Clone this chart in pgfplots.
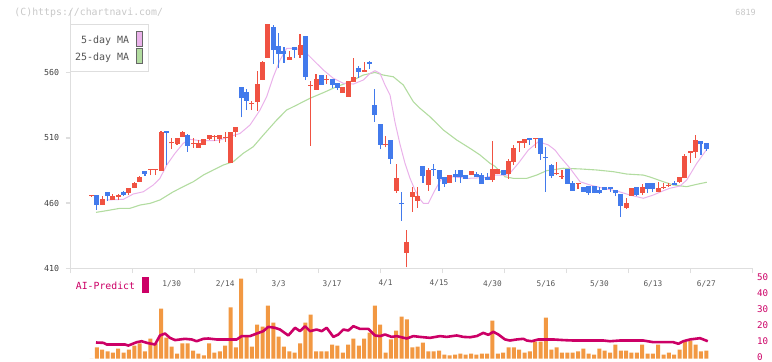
\documentclass[border=0pt]{standalone}
\usepackage{pgfplots}
\pgfplotsset{compat=1.18}
\usepackage{pgfplotstable}
\usepackage{fontspec}
\setmainfont{DejaVu Sans}
\newfontfamily\mono{DejaVu Sans Mono}
\newcommand\fmono[1]{\mono\fontsize{#1}{#1}\selectfont}
\definecolor{cred}{RGB}{240,82,66}
\definecolor{cblue}{RGB}{66,122,236}
\definecolor{cma5}{RGB}{234,178,234}
\definecolor{cma25}{RGB}{178,220,160}
\definecolor{cvol}{RGB}{242,152,66}
\definecolor{cai}{RGB}{204,0,102}
\definecolor{axgray}{RGB}{222,222,222}
\definecolor{txtgray}{RGB}{85,85,85}
\definecolor{wm}{RGB}{200,200,200}

\pgfplotstableread{
i o h l c
1 465.3 465.4 465.3 465.4
2 466.2 466.2 454.7 458.5
3 458.5 465.4 458.5 463.1
4 468.5 468.5 461.6 465.4
5 462.4 467.0 462.4 465.4
6 464.7 467.0 462.4 466.2
7 468.7 469.5 465.4 466.2
8 467.7 471.6 466.2 471.6
9 471.6 476.2 471.6 475.4
10 476.2 480.8 476.2 480.0
11 484.6 484.6 481.0 482.3
12 485.3 485.4 481.5 485.4
13 485.3 485.4 481.5 485.4
14 484.8 515.3 484.8 514.5
15 515.3 515.3 489.2 514.0
16 505.8 509.9 501.5 505.9
17 505.3 509.9 504.6 509.9
18 510.9 515.0 510.9 514.5
19 512.2 513.0 499.2 504.0
20 505.1 509.7 502.3 505.9
21 502.3 508.4 502.3 506.1
22 504.6 509.2 504.6 509.2
23 509.2 512.2 508.4 512.2
24 510.7 512.2 507.6 511.5
25 509.2 512.2 505.9 512.2
26 509.6 514.5 506.9 509.7
27 491.0 514.5 491.0 514.5
28 514.5 518.6 510.9 518.4
29 549.3 549.3 525.8 540.4
30 545.4 547.5 531.4 538.5
31 535.9 538.3 531.4 536.0
32 537.8 561.3 530.9 551.3
33 554.4 569.0 554.4 568.4
34 571.5 597.4 571.5 597.4
35 595.0 596.6 566.7 577.4
36 580.5 590.7 563.4 574.6
37 576.6 579.9 567.7 574.6
38 570.0 576.6 570.0 572.3
39 579.7 579.7 571.3 577.6
40 573.8 589.7 571.5 581.2
41 588.1 588.1 554.4 556.9
42 549.9 553.9 504.0 550.0
43 547.0 559.0 547.0 555.2
44 558.2 558.2 550.6 550.6
45 554.5 558.2 551.3 554.6
46 555.2 555.2 548.5 550.6
47 552.1 552.1 546.7 548.5
48 544.7 549.0 544.7 549.0
49 541.6 553.6 541.6 553.6
50 553.1 571.3 553.1 556.7
51 563.8 565.4 556.2 560.8
52 560.8 568.2 560.8 562.1
53 568.2 569.0 562.8 566.9
54 535.2 547.5 522.4 527.6
55 520.7 520.7 501.3 504.6
56 504.5 511.5 502.8 504.6
57 508.4 508.4 489.8 493.8
58 469.5 490.0 468.0 479.5
59 459.6 468.5 446.5 459.5
60 422.0 439.4 410.8 430.2
61 464.9 472.4 453.4 468.5
62 461.8 472.4 456.5 465.7
63 488.5 488.5 475.6 481.0
64 474.1 487.2 469.5 485.4
65 485.5 489.8 481.0 485.4
66 485.4 485.4 469.5 478.7
67 480.0 480.0 472.6 474.9
68 475.4 481.5 475.4 481.5
69 482.3 485.4 476.4 480.2
70 485.4 485.4 475.6 479.8
71 481.5 481.5 478.7 478.7
72 481.8 484.6 481.8 484.6
73 482.3 483.5 479.8 479.8
74 481.5 483.1 474.9 474.9
75 480.0 483.1 477.7 477.7
76 477.9 507.6 476.4 485.9
77 482.1 485.9 482.1 485.9
78 485.4 485.4 481.5 481.5
79 482.1 493.8 478.7 492.3
80 491.8 504.6 489.2 502.3
81 505.9 507.6 499.4 507.6
82 505.9 508.9 502.3 508.9
83 509.9 509.9 504.6 508.4
84 509.1 509.2 502.3 509.2
85 509.9 509.9 493.1 497.7
86 494.9 503.0 468.7 494.8
87 489.2 490.0 479.0 481.0
88 482.2 491.5 481.5 482.3
89 479.9 485.4 478.5 480.0
90 486.2 486.2 474.7 474.7
91 475.4 477.0 469.3 469.3
92 474.7 475.4 470.8 475.4
93 472.4 472.4 468.5 468.5
94 473.1 473.1 466.2 467.7
95 473.1 473.1 467.7 467.7
96 470.0 472.4 467.0 467.7
97 472.4 472.4 470.0 470.0
98 472.4 472.4 468.5 470.8
99 470.0 470.0 465.4 467.7
100 467.0 467.0 449.3 457.8
101 456.2 463.9 455.5 460.1
102 465.4 471.6 465.4 471.6
103 472.4 472.4 465.4 466.2
104 467.7 474.7 466.2 472.4
105 475.4 475.4 467.7 470.8
106 475.4 475.4 468.5 470.8
107 468.5 476.2 468.5 471.6
108 471.5 475.4 471.0 471.6
109 473.0 475.4 472.4 473.1
110 475.4 477.0 473.9 473.9
111 476.2 480.0 475.4 480.0
112 479.2 497.7 479.2 496.1
113 498.4 500.0 490.8 500.0
114 499.2 512.2 494.6 508.4
115 507.6 507.6 496.9 505.3
116 506.1 506.1 500.0 501.5
}\candles

\pgfplotstableread{
i v
3.84 462.4
6.95 462.9
8.82 467.0
10.69 468.7
12.56 473.9
13.81 479.0
15.07 489.2
16.62 498.2
18.17 505.9
19.42 508.9
21.30 507.9
23.78 507.9
25.04 508.4
26.91 511.1
28.78 513.4
30.65 519.9
32.52 531.4
33.77 541.6
35.01 556.9
36.26 569.7
37.51 578.7
38.75 578.7
40.62 577.4
42.49 569.7
44.36 562.1
46.23 555.7
48.10 551.9
49.97 551.3
51.84 554.4
53.09 559.5
54.03 561.5
54.97 559.5
55.90 550.6
56.84 542.9
57.77 522.0
58.71 505.0
59.64 490.5
60.58 479.0
61.51 470.0
62.45 463.0
63.07 459.8
64.00 459.8
65.25 470.0
66.51 479.0
68.38 480.2
71.48 479.0
74.61 479.5
76.48 481.5
78.97 481.5
80.84 490.5
82.71 500.7
84.58 507.1
86.45 504.6
87.70 500.7
88.64 495.6
90.51 486.7
92.38 476.4
94.25 473.9
96.73 471.4
99.24 469.3
101.73 466.2
104.22 463.7
106.09 466.2
107.96 469.5
109.21 471.4
111.08 473.1
112.33 477.7
114.21 490.5
116.08 501.2
}\mafive

\pgfplotstableread{
i v
1.84 452.9
3.53 454.0
6.33 456.0
8.20 456.0
10.07 458.5
11.94 459.8
13.81 462.4
16.30 468.7
18.17 472.6
20.04 476.4
21.91 481.5
23.78 485.4
25.65 489.2
27.52 491.8
29.39 498.2
31.27 503.3
33.14 512.2
35.64 523.7
37.51 531.4
39.38 535.2
41.87 540.4
44.36 544.7
46.87 549.3
49.35 553.1
51.84 558.2
54.03 560.2
55.58 558.2
57.45 556.9
59.32 550.6
61.19 537.8
62.45 532.7
64.32 526.2
66.81 516.1
69.31 508.4
71.80 502.0
73.67 496.9
75.54 490.5
76.48 488.2
78.35 480.2
79.90 479.0
82.41 479.0
84.28 481.5
86.15 484.9
89.25 486.7
92.38 486.2
95.50 485.4
98.61 484.1
101.11 482.3
104.22 481.5
105.47 480.0
107.96 476.4
109.83 473.9
112.33 472.6
114.21 474.4
116.08 476.0
}\matwentyfive

\pgfplotstableread{
i v
1 0
2 6.9
3 5.6
4 4.4
5 3.75
6 6.25
7 3.75
8 5.6
9 8.1
10 9.4
11 4.4
12 12.5
13 9.4
14 31.25
15 13.1
16 7.5
17 3.1
18 9.4
19 9.4
20 5.0
21 3.1
22 1.9
23 9.4
24 3.75
25 4.4
26 8.1
27 31.9
28 6.9
29 50.0
30 14.4
31 7.5
32 21.25
33 20.0
34 33.1
35 22.5
36 13.75
37 7.5
38 4.4
39 3.75
40 9.4
41 22.5
42 27.5
43 4.4
44 4.4
45 4.4
46 8.75
47 8.1
48 3.75
49 8.75
50 12.5
51 8.1
52 12.5
53 16.25
54 33.1
55 21.25
56 3.75
57 11.9
58 17.5
59 26.25
60 24.4
61 6.9
62 7.5
63 10.0
64 4.4
65 4.4
66 5.0
67 2.5
68 1.9
69 2.5
70 3.1
71 2.5
72 3.1
73 2.5
74 3.1
75 3.1
76 23.75
77 3.1
78 3.75
79 6.9
80 6.9
81 5.6
82 3.75
83 4.4
84 10.6
85 10.6
86 25.6
87 5.6
88 6.9
89 3.75
90 3.75
91 3.75
92 4.4
93 6.25
94 3.1
95 2.5
96 6.25
97 5.0
98 3.75
99 8.75
100 5.0
101 5.0
102 3.75
103 3.75
104 8.75
105 3.1
106 3.1
107 8.75
108 2.5
109 3.75
110 2.5
111 5.6
112 10.6
113 11.25
114 8.75
115 4.4
116 5.0
}\volume

\pgfplotstableread{
i v
1.84 10.0
3.21 9.8
3.84 8.75
7.27 8.75
7.89 8.1
9.45 10.2
10.39 10.8
11.32 9.8
12.88 8.75
13.81 14.4
14.75 15.6
15.68 12.9
16.62 11.5
18.49 12.3
19.74 11.9
20.67 10.8
21.92 12.3
22.85 12.5
24.41 11.9
25.97 11.9
28.16 11.9
29.09 14.0
30.65 14.0
31.90 15.6
33.14 17.1
34.07 19.8
35.32 19.2
36.26 18.1
37.81 14.4
39.07 19.2
40.00 17.1
40.94 20.2
41.87 17.1
43.12 18.1
44.06 17.1
44.99 19.2
46.24 13.5
47.18 15.0
48.10 18.1
49.04 17.5
49.98 20.2
51.22 18.5
52.78 18.5
54.03 14.4
54.97 14.0
55.90 15.0
57.15 13.5
58.09 14.0
59.96 12.5
61.20 14.0
62.45 13.5
64.32 12.9
66.19 14.0
67.44 13.5
69.31 14.4
70.55 13.5
71.80 13.3
73.05 14.0
74.29 16.0
75.23 14.8
76.16 16.7
77.10 15.0
78.35 11.9
79.28 11.25
80.53 11.9
81.77 12.3
82.40 11.25
83.34 10.8
84.58 11.9
85.52 11.9
87.38 11.9
89.25 11.5
91.12 11.25
92.99 11.25
94.86 11.25
96.73 11.25
97.99 10.8
99.86 11.25
101.10 11.25
104.20 11.25
106.09 10.2
107.96 10.2
109.83 10.2
110.77 9.2
111.70 10.8
112.95 11.9
113.89 12.3
114.82 12.7
115.45 11.9
116.27 10.8
}\aipred

\begin{document}
\begin{tikzpicture}[x=1bp,y=1bp]
\path[use as bounding box] (0,0) rectangle (772,361);

% main candlestick panel
\begin{axis}[
  at={(70.5bp,92.7bp)}, anchor=south west, scale only axis,
  width=682bp, height=258.3bp,
  xmin=-2.928, xmax=124.64, ymin=410, ymax=608.1,
  axis x line*=bottom, axis y line*=left,
  axis line style={draw=axgray, line width=1.6bp},
  tick align=outside, major tick length=5bp,
  tick style={draw=axgray, line width=1.3bp},
  xtick={-2.93,8.67,20.27,31.86,43.46,55.06,66.65,78.25,89.85,101.44,113.04,124.64},
  xticklabels={},
  extra x ticks={16,26,36,46,56,66,76,86,96,106,116},
  extra x tick labels={1/30,2/14,3/3,3/17,4/1,4/15,4/30,5/16,5/30,6/13,6/27},
  extra x tick style={major tick length=0pt, tick style={draw=none}},
  xticklabel style={font=\fmono{7.8}, text=txtgray, yshift=-8.5bp},
  ytick={410,460,510,560},
  yticklabels={410,460,510,560},
  yticklabel style={font=\fmono{8.3}, text=black!75, xshift=-3bp},
  clip=true,
]
\addplot[cma25, line width=1.1bp] table[x=i,y=v]{\matwentyfive};
\addplot[cma5, line width=1bp] table[x=i,y=v]{\mafive};
% red (rising) candles: wicks then bodies
\addplot[draw=none, mark=none, forget plot,
  x filter/.expression={\thisrow{c}>\thisrow{o} ? x : nan},
  error bars/.cd, y dir=plus, y explicit, error mark=none,
  error bar style={draw=cred, line width=1.1bp}]
  table[x=i, y=l, y error plus expr={\thisrow{h}-\thisrow{l}}]{\candles};
\addplot[draw=none, mark=none, forget plot,
  x filter/.expression={\thisrow{c}>\thisrow{o} ? x : nan},
  error bars/.cd, y dir=plus, y explicit, error mark=none,
  error bar style={draw=cred, line width=5bp}]
  table[x=i, y=o, y error plus expr={max(\thisrow{c}-\thisrow{o},0.8)}]{\candles};
% blue (falling) candles
\addplot[draw=none, mark=none, forget plot,
  x filter/.expression={\thisrow{o}>\thisrow{c} ? x : nan},
  error bars/.cd, y dir=plus, y explicit, error mark=none,
  error bar style={draw=cblue, line width=1.1bp}]
  table[x=i, y=l, y error plus expr={\thisrow{h}-\thisrow{l}}]{\candles};
\addplot[draw=none, mark=none, forget plot,
  x filter/.expression={\thisrow{o}>\thisrow{c} ? x : nan},
  error bars/.cd, y dir=plus, y explicit, error mark=none,
  error bar style={draw=cblue, line width=5bp}]
  table[x=i, y=c, y error plus expr={max(\thisrow{o}-\thisrow{c},0.8)}]{\candles};
\end{axis}

% lower panel: volume and AI-Predict
\begin{axis}[
  at={(70.5bp,2.5bp)}, anchor=south west, scale only axis,
  width=682bp, height=80bp,
  xmin=-2.928, xmax=124.64, ymin=0, ymax=50,
  axis x line=none, axis y line*=right,
  y axis line style={draw=none},
  major tick length=0pt, tick style={draw=none},
  ytick={0,10,20,30,40,50},
  yticklabels={0,10,20,30,40,50},
  yticklabel style={font=\fmono{9.2}, text=cai, anchor=west, xshift=1bp, yshift=1.6bp},
  clip=false,
]
\addplot[ybar, bar width=4bp, fill=cvol, draw=none] table[x=i,y=v]{\volume};
\addplot[cai, line width=2.6bp, line join=round] table[x=i,y=v]{\aipred};
\end{axis}

% legend box
\draw[axgray, line width=1.3bp, fill=white] (70.3,289.7) rectangle (148.3,336.7);
\node[anchor=east, inner sep=0pt, font=\fmono{10}, text=txtgray] at (129.3,320.3) {5-day MA};
\draw[fill=cma5, draw=black!60, line width=0.8bp] (136.3,314.3) rectangle (142.7,329.7);
\node[anchor=east, inner sep=0pt, font=\fmono{10}, text=txtgray] at (129.3,303.7) {25-day MA};
\draw[fill=cma25, draw=black!60, line width=0.8bp] (136.3,298) rectangle (142.7,313);

% watermark and code
\node[anchor=west, inner sep=0pt, font=\fmono{9.9}, text=wm] at (14.3,348.7) {(C)https://chartnavi.com/};
\node[anchor=east, inner sep=0pt, font=\fmono{8.5}, text=wm] at (756,349) {6819};

% AI-Predict label
\node[anchor=west, inner sep=0pt, font=\fmono{9.85}, text=cai] at (75.7,75) {AI-Predict};
\fill[cai] (142,68.3) rectangle (149,83.7);
\end{tikzpicture}
\end{document}
